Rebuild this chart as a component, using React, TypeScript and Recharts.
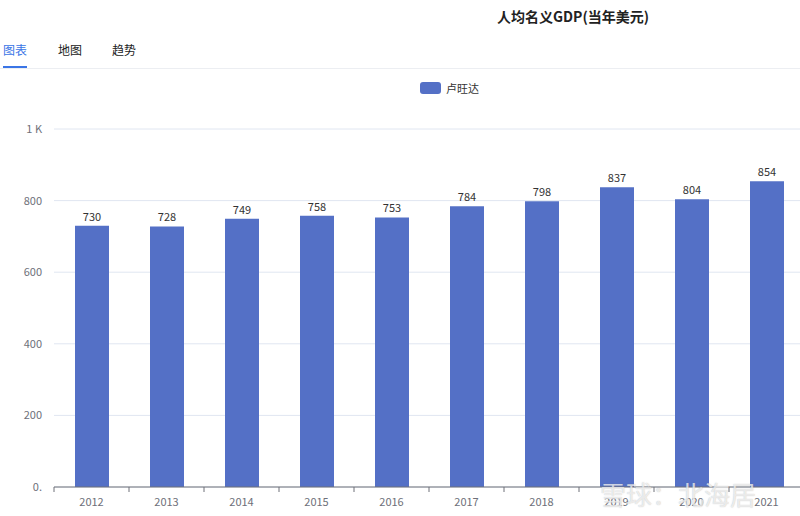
import React from "react"
import { BarChart, Bar, XAxis, YAxis, CartesianGrid, LabelList } from "recharts"

const years = ["2012", "2013", "2014", "2015", "2016", "2017", "2018", "2019", "2020", "2021"]
const gdpPerCapita = [730, 728, 749, 758, 753, 784, 798, 837, 804, 854]
const yTicks = [0, 200, 400, 600, 800, 1000]
const tabs = ["图表", "地图", "趋势"]
const seriesName = "卢旺达"

const data = years.map((year, i) => ({ year, value: gdpPerCapita[i] }))

const FONT = "'Microsoft YaHei', 'Noto Sans CJK SC', 'Noto Sans', sans-serif"
const BLUE = "#5470c6"

const formatY = (v: number) => {
    if (v === 1000) return "1 K"
    if (v === 0) return "0."
    return String(v)
}

// category labels in the middle, tick marks on the band edges
const YearTick = (props: any) => {
    const { x, y, payload, index } = props
    const half = payload.offset || 37.5
    const axisY = y - 9
    return (
        <g>
            <line x1={x - half} x2={x - half} y1={axisY} y2={axisY + 5} stroke="#6e7079" />
            {index === years.length - 1 && (
                <line x1={x + half} x2={x + half} y1={axisY} y2={axisY + 5} stroke="#6e7079" />
            )}
            <text x={x} y={y} dy={10} textAnchor="middle" fontSize={11} fill="#6e7079" fontFamily={FONT}>
                {payload.value}
            </text>
        </g>
    )
}

export default function App() {
    return (
        <div
            style={{
                position: "absolute",
                left: 0,
                top: 0,
                width: 800,
                height: 516,
                overflow: "hidden",
                background: "#fff",
                fontFamily: FONT,
            }}
        >
            <div
                style={{
                    position: "absolute",
                    left: 430,
                    width: 286,
                    top: 6,
                    textAlign: "center",
                    fontSize: 14,
                    fontWeight: "bold",
                    color: "#222",
                }}
            >
                人均名义GDP(当年美元)
            </div>

            {tabs.map((t, i) => (
                <div
                    key={t}
                    style={{
                        position: "absolute",
                        left: [3, 58, 112][i],
                        top: 41,
                        fontSize: 12,
                        color: i === 0 ? "#3a75e6" : "#222",
                        paddingBottom: 8,
                        borderBottom: i === 0 ? "2px solid #3a75e6" : "none",
                    }}
                >
                    {t}
                </div>
            ))}
            <div style={{ position: "absolute", left: 0, right: 0, top: 68, height: 1, background: "#eceef2" }} />

            <div style={{ position: "absolute", left: 420, top: 80, display: "flex", alignItems: "center" }}>
                <span style={{ width: 21, height: 12, borderRadius: 3, background: BLUE, display: "inline-block" }} />
                <span style={{ marginLeft: 5, fontSize: 11, color: "#333" }}>{seriesName}</span>
            </div>

            <div style={{ position: "absolute", left: 0, top: 0 }}>
                <BarChart
                    width={810}
                    height={516}
                    data={data}
                    margin={{ top: 129, right: 6, bottom: 0, left: 0 }}
                >
                    <CartesianGrid vertical={false} stroke="#e0e6f1" />
                    <XAxis
                        dataKey="year"
                        height={29}
                        stroke="#6e7079"
                        tickLine={false}
                        tickSize={5}
                        tickMargin={4}
                        interval={0}
                        tick={<YearTick />}
                    />
                    <YAxis
                        width={54}
                        domain={[0, 1000]}
                        ticks={yTicks}
                        tickFormatter={formatY}
                        axisLine={false}
                        tickLine={false}
                        tickMargin={6}
                        tick={{ fontSize: 11, fill: "#6e7079", fontFamily: FONT }}
                    />
                    <Bar dataKey="value" fill={BLUE} barSize={34} isAnimationActive={false}>
                        <LabelList
                            dataKey="value"
                            position="top"
                            offset={5}
                            fontSize={11}
                            fill="#333"
                            fontFamily={FONT}
                        />
                    </Bar>
                </BarChart>
            </div>

            <div
                style={{
                    position: "absolute",
                    left: 600,
                    top: 475,
                    fontSize: 26,
                    color: "rgba(255,255,255,0.7)",
                    textShadow: "0 0 1px rgba(120,120,120,0.5)",
                    whiteSpace: "nowrap",
                }}
            >
                雪球：北海居
            </div>
        </div>
    )
}
